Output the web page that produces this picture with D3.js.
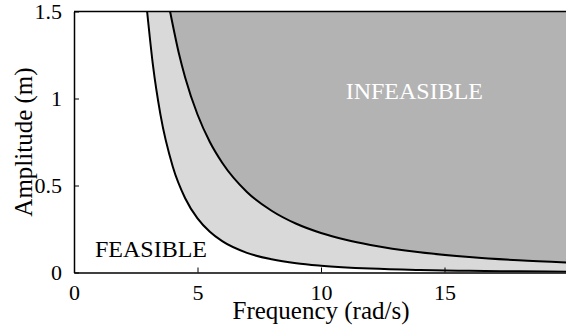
<!DOCTYPE html>
<html>
<head>
<meta charset="utf-8">
<script src="https://cdn.jsdelivr.net/npm/d3@7/dist/d3.min.js"></script>
<style>
	html, body { margin: 0; padding: 0; background: #fff; }
	svg { display: block; font-family: 'Liberation Serif', 'Times New Roman', serif; }
</style>
</head>
<body>
<div id="chart"></div>
<script>
// values (frequency in rad/s, amplitude in m)
const innerFreq = [2.96, 3.2, 3.5, 4, 4.5, 5, 5.5, 6, 7, 8, 9, 10, 12, 14, 16, 18, 20];
const innerAmp = [1.5, 1.187, 0.907, 0.608, 0.427, 0.311, 0.234, 0.18, 0.113, 0.076, 0.053, 0.039, 0.0225, 0.0142, 0.0095, 0.0067, 0.0049];

const outerFreq = [3.89, 4.25, 4.5, 5, 5.5, 6, 7, 8, 9, 10, 11, 12, 14, 16, 18, 20];
const outerAmp = [1.5, 1.257, 1.121, 0.908, 0.75, 0.631, 0.463, 0.355, 0.28, 0.227, 0.188, 0.158, 0.116, 0.089, 0.07, 0.057];

const xTicks = [0, 5, 10, 15];
const yTicks = [0, 0.5, 1, 1.5];
const yTickLabels = ['0', '0.5', '1', '1.5'];

const width = 566;
const height = 331;
const margin = { left: 74, top: 11.5, right: -2, bottom: 58.5 };

const svg = d3.select('#chart')
	.append('svg')
	.attr('width', width)
	.attr('height', height);

const x = d3.scaleLinear().domain([0, 20]).range([margin.left, width - margin.right]);
const y = d3.scaleLinear().domain([0, 1.5]).range([height - margin.bottom, margin.top]);

const toPoints = (xs, ys) => xs.map((v, i) => ({ w: v, a: ys[i] }));
const inner = toPoints(innerFreq, innerAmp);
const outer = toPoints(outerFreq, outerAmp);

svg.append('clipPath')
	.attr('id', 'plot-clip')
	.append('rect')
	.attr('x', x(0))
	.attr('y', y(1.5))
	.attr('width', x(20) - x(0))
	.attr('height', y(0) - y(1.5));

const plot = svg.append('g').attr('clip-path', 'url(#plot-clip)');

const band = d3.area()
	.x(d => x(d.w))
	.y0(d => y(d.a))
	.y1(y(1.5))
	.curve(d3.curveMonotoneX);

const edge = d3.line()
	.x(d => x(d.w))
	.y(d => y(d.a))
	.curve(d3.curveMonotoneX);

plot.append('path').attr('d', band(inner)).attr('fill', '#d9d9d9');
plot.append('path').attr('d', band(outer)).attr('fill', '#b3b3b3');

[inner, outer].forEach(data => {
	plot.append('path')
		.attr('d', edge(data))
		.attr('fill', 'none')
		.attr('stroke', '#000')
		.attr('stroke-width', 2);
});

// region labels
svg.append('text')
	.attr('x', x(11))
	.attr('y', y(1.0))
	.attr('font-size', 24)
	.attr('fill', '#fff')
	.text('INFEASIBLE');

svg.append('text')
	.attr('x', x(0.85))
	.attr('y', y(0.09))
	.attr('font-size', 24)
	.attr('fill', '#000')
	.text('FEASIBLE');

// axes, ticks inside
const xAxis = d3.axisBottom(x).tickValues(xTicks).tickSizeInner(-5).tickSizeOuter(0).tickPadding(12);
const yAxis = d3.axisLeft(y).tickValues(yTicks).tickFormat((d, i) => yTickLabels[i])
	.tickSizeInner(-5).tickSizeOuter(0).tickPadding(12);

const gx = svg.append('g').attr('transform', `translate(0,${y(0)})`).call(xAxis);
const gy = svg.append('g').attr('transform', `translate(${x(0)},0)`).call(yAxis);

[gx, gy].forEach(g => {
	g.selectAll('.domain').attr('stroke', '#000').attr('stroke-width', 1.5);
	g.selectAll('.tick line').attr('stroke', '#000').attr('stroke-width', 1);
	g.selectAll('.tick text')
		.attr('font-family', "'Liberation Serif', serif")
		.attr('font-size', 22)
		.attr('fill', '#000');
});

svg.append('line')
	.attr('x1', x(0))
	.attr('x2', x(20))
	.attr('y1', y(1.5))
	.attr('y2', y(1.5))
	.attr('stroke', '#000')
	.attr('stroke-width', 1.5);

svg.append('text')
	.attr('x', (x(0) + x(20)) / 2)
	.attr('y', 319)
	.attr('text-anchor', 'middle')
	.attr('font-size', 25)
	.text('Frequency (rad/s)');

svg.append('text')
	.attr('transform', `translate(32,${(y(0) + y(1.5)) / 2}) rotate(-90)`)
	.attr('text-anchor', 'middle')
	.attr('font-size', 25)
	.text('Amplitude (m)');
</script>
</body>
</html>
